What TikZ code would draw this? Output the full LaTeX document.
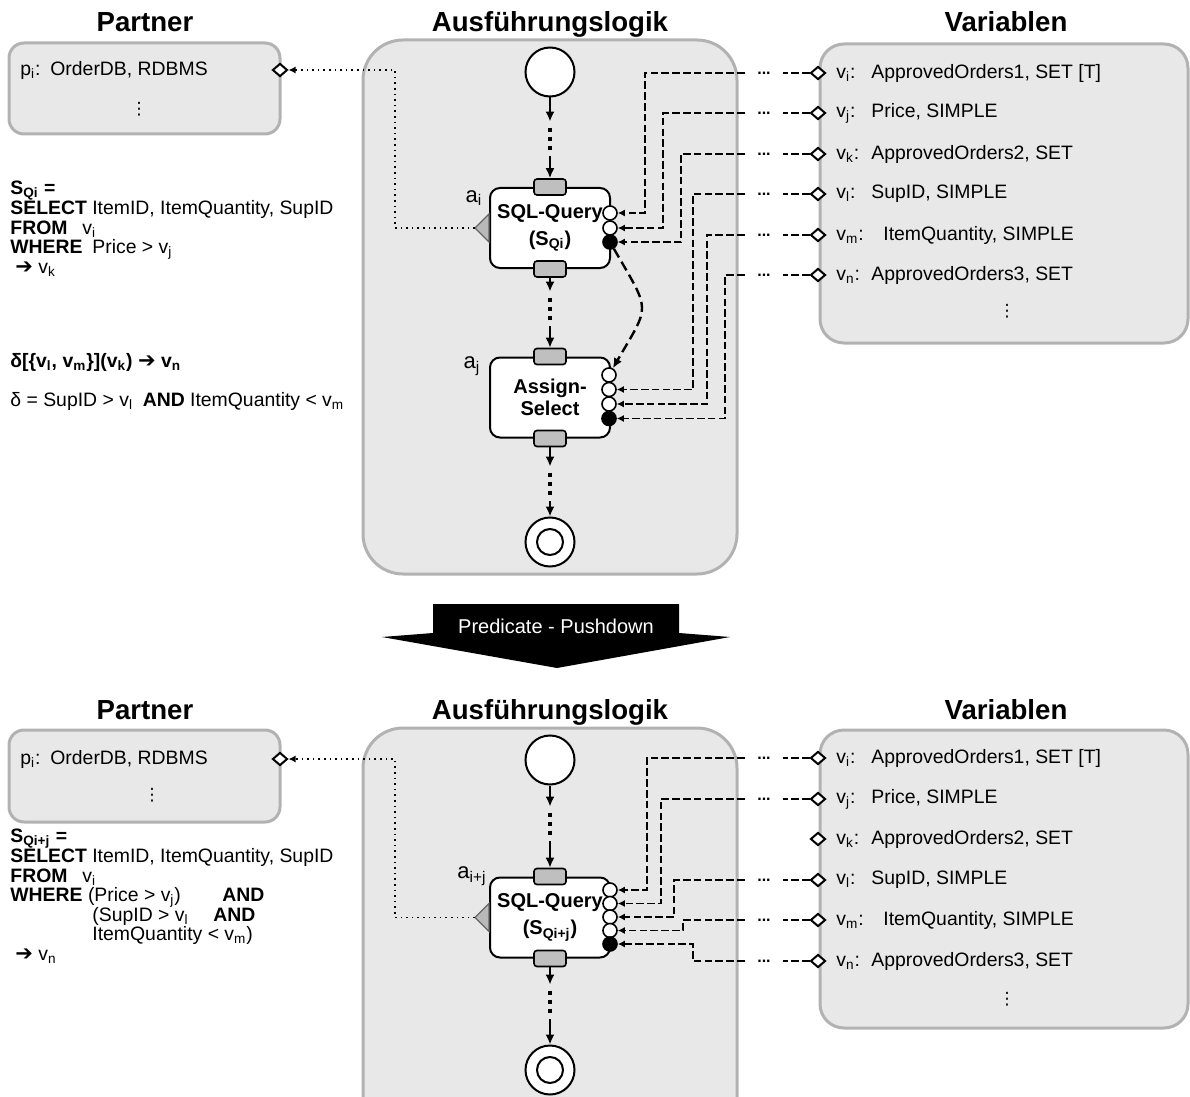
\documentclass[tikz,border=0pt]{standalone}
\usepackage{fontspec}
\setmainfont{Liberation Sans}
\newfontfamily\symfont{DejaVu Sans}
\usepackage{xcolor}
\usepackage{tikz}
\usetikzlibrary{arrows.meta,shapes,shapes.geometric}
\usetikzlibrary{positioning}

\newcommand{\vlab}[2][17.5pt]{\makebox[#1][l]{v\textsubscript{#2}:}}
\newcommand{\vsub}[1]{v\textsubscript{#1}}
\newcommand{\thickarrow}{{\symfont\fontsize{10.5}{9}\selectfont ➔}}
\newcommand{\vdotsym}{{\symfont ⋮}}
\newcommand{\tightlines}{\lineskiplimit -6pt\relax}

\begin{document}
\begin{tikzpicture}[x=0.5pt, y=-0.5pt,
  panel/.style={draw=gray!60, fill=gray!18, line width=1.5pt},
  title/.style={font=\fontsize{13.8}{16}\selectfont\bfseries, anchor=base},
  txt/.style={font=\fontsize{9.7}{10}\selectfont, anchor=west, inner sep=0pt},
  code/.style={font=\fontsize{9.7}{9.8}\selectfont\tightlines, anchor=north west, align=left, inner sep=0pt},
  activity/.style={draw, fill=white, line width=1pt, rounded corners=5pt, minimum width=60pt, minimum height=40pt, inner sep=1pt, font=\fontsize{10}{13.5}\selectfont\bfseries, align=center},
  port/.style={draw, fill=gray!50, line width=0.8pt, rounded corners=1.5pt, minimum width=16pt, minimum height=8pt, inner sep=0pt},
  pin/.style={circle, draw, fill=white, line width=0.8pt, minimum size=7pt, inner sep=0pt},
  pout/.style={pin, fill=black},
  vdia/.style={diamond, draw, fill=white, line width=1pt, minimum width=7.5pt, minimum height=6.5pt, inner sep=0pt},
  event/.style={circle, draw, fill=white, line width=1pt, minimum size=24.5pt, inner sep=0pt},
  gap/.style={minimum width=19pt, inner sep=0pt, font=\fontsize{8}{9}\selectfont\bfseries},
  mid/.style={minimum height=17pt, minimum width=0pt, inner sep=0pt},
  vdts/.style={font=\fontsize{8.5}{9}\selectfont, inner sep=0pt},
  flow/.style={line width=1pt, -{Latex[length=5pt,width=4.5pt]}},
  dotline/.style={line width=1.6pt, dash pattern=on 2pt off 2.5pt},
  dlinkplain/.style={line width=0.7pt, dash pattern=on 3.8pt off 1.6pt},
  dlink/.style={dlinkplain, -{Latex[length=3.5pt,width=3.5pt]}},
  plink/.style={line width=0.8pt, dotted, -{Latex[length=3.5pt,width=3.5pt]}},
  curvelink/.style={line width=1.2pt, dash pattern=on 5pt off 2.5pt, -{Latex[length=5pt,width=4.5pt]}},
  tri/.style={draw=gray!80!black, fill=gray!55, line width=0.6pt}
]
\useasboundingbox (0,0) rectangle (1190,1097);

\node[title] (tPartnerA) at (145,32) {Partner};
\node[title] (tLogikA) at (550,32) {Ausführungslogik};
\node[title] (tVarA) at (1006,32) {Variablen};

\node[panel, rounded corners=7.5pt, minimum width=135.5pt, minimum height=45.5pt] (partnerA) at (144.5,88.5) {};
\node[panel, rounded corners=20pt, minimum width=187pt, minimum height=267pt] (logikA) at (550,307) {};
\node[panel, rounded corners=12pt, minimum width=184pt, minimum height=149.5pt] (varA) at (1004,193.5) {};

\node[txt] (ptA) at (20,70) {\makebox[15pt][l]{p\textsubscript{i}:}OrderDB, RDBMS};
\node[vdts] (pdotsA) at (139,109) {\vdotsym};
\node[vdia] (pdA) at (280,70) {};

\node[code] (sqlA) at (10,181) {\textbf{S\textsubscript{Qi} =}\\
\textbf{SELECT} ItemID, ItemQuantity, SupID\\
\makebox[36pt][l]{\textbf{FROM}}\vsub{i}\\
\makebox[41pt][l]{\textbf{WHERE}}Price > \vsub{j}\\
\hspace*{2.5pt}\thickarrow\ \vsub{k}};
\node[txt] (deltaA) at (10,362) {\textbf{δ[\{\vsub{l}, \vsub{m}\}](\vsub{k}) \thickarrow\ \vsub{n}}};
\node[txt] (predA) at (10,401) {δ = SupID > \vsub{l}\enspace\textbf{AND} ItemQuantity < \vsub{m}};

\node[txt] (vtA1) at (836,73) {\vlab{i}ApprovedOrders1, SET [T]};
\node[txt] (vtA2) at (836,113) {\vlab{j}Price, SIMPLE};
\node[txt] (vtA3) at (836,154) {\vlab{k}ApprovedOrders2, SET};
\node[txt] (vtA4) at (836,194) {\vlab{l}SupID, SIMPLE};
\node[txt] (vtA5) at (836,235) {\vlab[23.5pt]{m}ItemQuantity, SIMPLE};
\node[txt] (vtA6) at (836,275) {\vlab{n}ApprovedOrders3, SET};
\node[vdts] (vdotsA) at (1007,311) {\vdotsym};

\node[vdia] (vdA1) at (818,73) {};
\node[vdia] (vdA2) at (818,113) {};
\node[vdia] (vdA3) at (818,154) {};
\node[vdia] (vdA4) at (818,194) {};
\node[vdia] (vdA5) at (818,235) {};
\node[vdia] (vdA6) at (818,275) {};

\node[gap] (gA1) at (764,73) {...};
\node[gap] (gA2) at (764,113) {...};
\node[gap] (gA3) at (764,154) {...};
\node[gap] (gA4) at (764,194) {...};
\node[gap] (gA5) at (764,235) {...};
\node[gap] (gA6) at (764,275) {...};

\node[event] (sA) at (550,72) {};
\node[mid] (mA1) at (550,139) {};
\node[activity] (qA) at (550,228) {SQL-Query\\(S\textsubscript{Qi})};
\node[port] (qAin) at (qA.north) {};
\node[port] (qAout) at (qA.south) {};
\node[font=\fontsize{11}{12}\selectfont] (laA) at (474,198) {a\textsubscript{i}};
\node[mid] (mA2) at (550,309) {};
\node[activity, font=\fontsize{10}{11}\selectfont\bfseries] (asA) at (550,397.5) {Assign-\\Select};
\node[port] (asAin) at (asA.north) {};
\node[port] (asAout) at (asA.south) {};
\node[font=\fontsize{11}{12}\selectfont] (ljA) at (472,366) {a\textsubscript{j}};
\node[mid] (mA3) at (550,484) {};
\node[event] (eA) at (550,542) {};
\node[event, minimum size=13pt] (eAi) at (eA) {};

\node[pin] (iA1) at (610,213) {};
\node[pin] (iA2) at (610,228) {};
\node[pout] (iA3) at (610,242) {};
\node[pin] (jA1) at (609,375) {};
\node[pin] (jA2) at (609,389.5) {};
\node[pin] (jA3) at (609,404) {};
\node[pout] (jA4) at (609,418.5) {};

\path[draw] [tri] (qA.west) ++(0,-14) -- ++(-14,14) coordinate (pA) -- ++(14,14) -- cycle;

\path[draw] [flow] (sA) -- (mA1);
\path[draw] [dotline] ([yshift=-3pt]mA1.north) -- ([yshift=3pt]mA1.south);
\path[draw] [flow] (mA1) -- (qAin);
\path[draw] [flow] (qAout) -- (mA2);
\path[draw] [dotline] ([yshift=-3pt]mA2.north) -- ([yshift=3pt]mA2.south);
\path[draw] [flow] (mA2) -- (asAin);
\path[draw] [flow] (asAout) -- (mA3);
\path[draw] [dotline] ([yshift=-3pt]mA3.north) -- ([yshift=3pt]mA3.south);
\path[draw] [flow] (mA3) -- (eA);

\coordinate (kP1) at (395,228);
\path[draw] [plink] (pA) -- (kP1) |- (pdA);

\coordinate (kA1) at (645,73);
\coordinate (kA2) at (663,113);
\coordinate (kA3) at (681,154);
\coordinate (kA4) at (693,194);
\coordinate (kA5) at (707,235);
\coordinate (kA6) at (725,275);
\path[draw] [dlinkplain] (vdA1) -- (gA1);
\path[draw] [dlinkplain] (vdA2) -- (gA2);
\path[draw] [dlinkplain] (vdA3) -- (gA3);
\path[draw] [dlinkplain] (vdA4) -- (gA4);
\path[draw] [dlinkplain] (vdA5) -- (gA5);
\path[draw] [dlinkplain] (vdA6) -- (gA6);
\path[draw] [dlink] (gA1) -- (kA1) |- (iA1);
\path[draw] [dlink] (gA2) -- (kA2) |- (iA2);
\path[draw] [dlink] (gA3) -- (kA3) |- (iA3);
\path[draw] [dlink] (gA4) -- (kA4) |- (jA2);
\path[draw] [dlink] (gA5) -- (kA5) |- (jA3);
\path[draw] [dlink] (gA6) -- (kA6) |- (jA4);
\path[draw] [curvelink] (iA3) to[out=-60, in=60, looseness=1.6] (jA1);

\path[fill=black] (433,604) -- (679,604) -- (679,633) -- (730,637) -- (557,668) -- (382,637) -- (433,633) -- cycle;
\node[font=\fontsize{10}{12}\selectfont, text=white] (pushLbl) at (556,626) {Predicate - Pushdown};

\node[title] (tPartnerB) at (145,719) {Partner};
\node[title] (tLogikB) at (550,719) {Ausführungslogik};
\node[title] (tVarB) at (1006,719) {Variablen};

\node[panel, rounded corners=7.5pt, minimum width=135.5pt, minimum height=46pt] (partnerB) at (144.5,776) {};
\node[panel, rounded corners=20pt, minimum width=187pt, minimum height=211pt] (logikB) at (550,939) {};
\node[panel, rounded corners=12pt, minimum width=184pt, minimum height=149pt] (varB) at (1004,879) {};

\node[txt] (ptB) at (20,759) {\makebox[15pt][l]{p\textsubscript{i}:}OrderDB, RDBMS};
\node[vdts] (pdotsB) at (152,795) {\vdotsym};
\node[vdia] (pdB) at (280,759) {};

\node[code] (sqlB) at (10,829) {\textbf{S\textsubscript{Qi+j} =}\\
\textbf{SELECT} ItemID, ItemQuantity, SupID\\
\makebox[36pt][l]{\textbf{FROM}}\vsub{i}\\
\makebox[106pt][l]{\textbf{WHERE} (Price > \vsub{j})}\textbf{AND}\\
\hspace*{41pt}\makebox[60.5pt][l]{(SupID > \vsub{l}}\textbf{AND}\\
\hspace*{41pt}ItemQuantity < \vsub{m})\\
\hspace*{2.5pt}\thickarrow\ \vsub{n}};

\node[txt] (vtB1) at (836,758) {\vlab{i}ApprovedOrders1, SET [T]};
\node[txt] (vtB2) at (836,799) {\vlab{j}Price, SIMPLE};
\node[txt] (vtB3) at (836,839) {\vlab{k}ApprovedOrders2, SET};
\node[txt] (vtB4) at (836,880) {\vlab{l}SupID, SIMPLE};
\node[txt] (vtB5) at (836,920) {\vlab[23.5pt]{m}ItemQuantity, SIMPLE};
\node[txt] (vtB6) at (836,961) {\vlab{n}ApprovedOrders3, SET};
\node[vdts] (vdotsB) at (1007,999) {\vdotsym};

\node[vdia] (vdB1) at (818,758) {};
\node[vdia] (vdB2) at (818,799) {};
\node[vdia] (vdB3) at (818,839) {};
\node[vdia] (vdB4) at (818,880) {};
\node[vdia] (vdB5) at (818,920) {};
\node[vdia] (vdB6) at (818,961) {};

\node[gap] (gB1) at (764,758) {...};
\node[gap] (gB2) at (764,799) {...};
\node[gap] (gB4) at (764,880) {...};
\node[gap] (gB5) at (764,920) {...};
\node[gap] (gB6) at (764,961) {...};

\node[event] (sB) at (550,760) {};
\node[mid] (mB1) at (550,824) {};
\node[activity] (qB) at (550,917.5) {SQL-Query\\(S\textsubscript{Qi+j})};
\node[port] (qBin) at (qB.north) {};
\node[port] (qBout) at (qB.south) {};
\node[font=\fontsize{11}{12}\selectfont] (laB) at (472,876) {a\textsubscript{i+j}};
\node[mid] (mB2) at (550,1002) {};
\node[event] (eB) at (550,1070) {};
\node[event, minimum size=13pt] (eBi) at (eB) {};

\node[pin] (iB1) at (610,890) {};
\node[pin] (iB2) at (610,903.5) {};
\node[pin] (iB3) at (610,917) {};
\node[pin] (iB4) at (610,930.5) {};
\node[pout] (iB5) at (610,944) {};

\path[draw] [tri] (qB.west) ++(0,-14) -- ++(-14,14) coordinate (pB) -- ++(14,14) -- cycle;

\path[draw] [flow] (sB) -- (mB1);
\path[draw] [dotline] ([yshift=-3pt]mB1.north) -- ([yshift=3pt]mB1.south);
\path[draw] [flow] (mB1) -- (qBin);
\path[draw] [flow] (qBout) -- (mB2);
\path[draw] [dotline] ([yshift=-3pt]mB2.north) -- ([yshift=3pt]mB2.south);
\path[draw] [flow] (mB2) -- (eB);

\coordinate (kP2) at (395,917.5);
\path[draw] [plink] (pB) -- (kP2) |- (pdB);

\coordinate (kB1) at (647,758);
\coordinate (kB2) at (661,799);
\coordinate (kB4) at (674,880);
\coordinate (kB5) at (683,920);
\coordinate (kB6) at (693,961);
\path[draw] [dlinkplain] (vdB1) -- (gB1);
\path[draw] [dlinkplain] (vdB2) -- (gB2);
\path[draw] [dlinkplain] (vdB4) -- (gB4);
\path[draw] [dlinkplain] (vdB5) -- (gB5);
\path[draw] [dlinkplain] (vdB6) -- (gB6);
\path[draw] [dlink] (gB1) -- (kB1) |- (iB1);
\path[draw] [dlink] (gB2) -- (kB2) |- (iB2);
\path[draw] [dlink] (gB4) -- (kB4) |- (iB3);
\path[draw] [dlink] (gB5) -- (kB5) |- (iB4);
\path[draw] [dlink] (gB6) -- (kB6) |- (iB5);

\end{tikzpicture}
\end{document}
